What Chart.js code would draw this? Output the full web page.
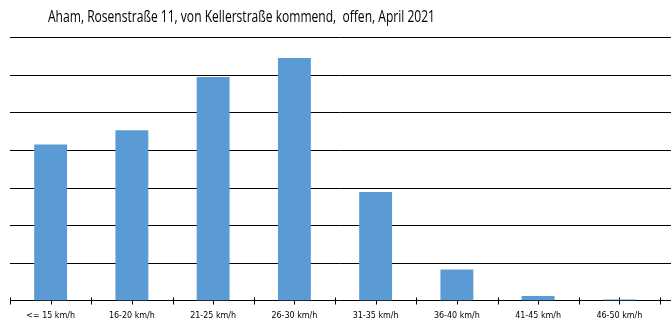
<!DOCTYPE html>
<html>
<head>
<meta charset="utf-8">
<script src="https://cdn.jsdelivr.net/npm/chart.js@4"></script>
<style>
  html, body { margin: 0; padding: 0; background: #fff; }
  #wrap { width: 671px; height: 330px; }
</style>
</head>
<body>
<div id="wrap"><canvas id="chart"></canvas></div>
<script>
const titleText = 'Aham, Rosenstraße 11, von Kellerstraße kommend,  offen, April 2021';
const categories = ['<= 15 km/h', '16-20 km/h', '21-25 km/h', '26-30 km/h', '31-35 km/h', '36-40 km/h', '41-45 km/h', '46-50 km/h'];
const counts = [207, 226, 297, 322, 144, 41, 6, 1.3];
const yTicks = [0, 50, 100, 150, 200, 250, 300, 350];

// Titel links oben, schmal wie Calibri im Original
const titlePlugin = {
    id: 'leftTitle',
    afterDraw(chart) {
        const ctx = chart.ctx;
        ctx.save();
        ctx.fillStyle = '#000';
        ctx.font = '16px "Open Sans"';
        ctx.textBaseline = 'alphabetic';
        const w = ctx.measureText(titleText).width;
        ctx.translate(48, 22);
        ctx.scale(387 / w, 1);
        ctx.fillText(titleText, 0, 0);
        ctx.restore();
    }
};

// Gitterlinien bis zum rechten Rand, Achse mit Strichen
const gridPlugin = {
    id: 'excelGrid',
    beforeDatasetsDraw(chart) {
        const ctx = chart.ctx;
        const y = chart.scales.y;
        const x = chart.scales.x;
        const left = chart.chartArea.left;
        ctx.save();
        ctx.strokeStyle = '#000';
        ctx.lineWidth = 1;
        yTicks.forEach(v => {
            const py = Math.round(y.getPixelForValue(v)) + 0.5;
            ctx.beginPath();
            ctx.moveTo(left, py);
            ctx.lineTo(chart.width, py);
            ctx.stroke();
        });
        const base = Math.round(y.getPixelForValue(0)) + 0.5;
        const step = x.getPixelForValue(1) - x.getPixelForValue(0);
        for (let i = 0; i <= categories.length; i++) {
            const bx = Math.round(x.getPixelForValue(i) - step / 2) + 0.5;
            ctx.beginPath();
            ctx.moveTo(bx, base - 3);
            ctx.lineTo(bx, base + 4);
            ctx.stroke();
            if (i < categories.length) {
                const cx = Math.round(x.getPixelForValue(i)) + 0.5;
                ctx.beginPath();
                ctx.moveTo(cx, base - 3);
                ctx.lineTo(cx, base + 4);
                ctx.stroke();
            }
        }
        ctx.restore();
    }
};

new Chart(document.getElementById('chart').getContext('2d'), {
    type: 'bar',
    data: {
        labels: categories,
        datasets: [{
            data: counts,
            backgroundColor: '#5B9BD5',
            borderWidth: 0,
            barPercentage: 0.81,
            categoryPercentage: 0.5
        }]
    },
    options: {
        responsive: true,
        maintainAspectRatio: false,
        animation: false,
        layout: { padding: { left: 10, right: 11, top: 37, bottom: 6 } },
        plugins: {
            legend: { display: false },
            tooltip: { enabled: false },
            title: { display: false }
        },
        scales: {
            x: {
                grid: { display: false },
                border: { display: false },
                ticks: {
                    color: '#000',
                    font: { family: 'DejaVu Sans', size: 8 },
                    padding: 3,
                    autoSkip: false,
                    maxRotation: 0
                }
            },
            y: {
                display: false,
                min: 0,
                max: 350,
                ticks: { stepSize: 50 }
            }
        }
    },
    plugins: [gridPlugin, titlePlugin]
});
</script>
</body>
</html>
